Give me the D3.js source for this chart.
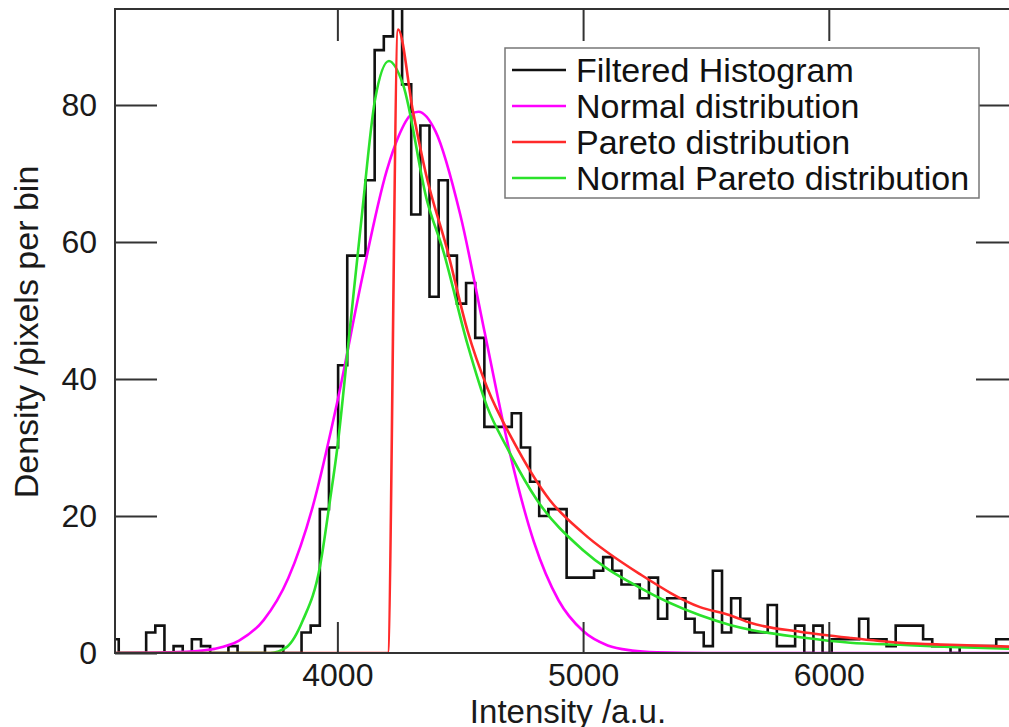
<!DOCTYPE html>
<html>
<head>
<meta charset="utf-8">
<script src="https://cdn.jsdelivr.net/npm/d3@7"></script>
<style>
  body { margin: 0; background: #fff; }
  svg { display: block; font-family: "Liberation Sans", Arial, Helvetica, sans-serif; }
  .axis text { font-size: 32px; fill: #1a1a1a; }
  .axis line { stroke: #333; stroke-width: 2px; }
  .axisLabel { font-size: 34px; fill: #1a1a1a; }
  .legend text { font-size: 34px; fill: #111; }
</style>
</head>
<body>
<div id="chart"></div>
<script>
var width = 1009, height = 727;
var plotLeft = 115, plotRight = 1018, plotTop = 9, plotBottom = 653;

// histogram: bins of equal width starting at binStart (a.u.)
var binStart = 3073, binWidth = 37.2;
var histValues = [
  2, 0, 0, 0, 3, 4, 0, 1, 0, 2,
  1, 0, 0, 1, 0, 0, 0, 1, 1, 0,
  0, 3, 4, 21, 30, 42, 58, 58, 69, 88,
  90, 95, 83, 64, 77, 52, 69, 58, 51, 54,
  46, 33, 33, 33, 35, 30, 25, 20, 21, 21,
  11, 11, 11, 12, 14, 12, 10, 10, 8, 11,
  5, 8, 8, 5, 3, 1, 12, 3, 8, 5,
  3, 3, 7, 1, 1, 4, 0, 4, 0, 2,
  2, 2, 5, 2, 2, 1, 4, 4, 4, 2,
  1, 1, 0, 1, 1, 1, 1, 2, 2
];

// fitted curves
var normalX = [3095, 3300, 3400, 3500, 3600, 3700, 3800, 3900, 4000, 4100, 4200, 4250, 4300, 4330, 4400, 4500, 4600, 4700, 4800, 4900, 5000, 5100, 5200, 5300, 5500, 6770];
var normalY = [0, 0.1, 0.2, 0.6, 1.8, 4.8, 10.9, 21.4, 36.7, 54.6, 70.3, 75.5, 78.6, 79, 76.1, 64, 46.7, 29.5, 16.2, 7.7, 3.2, 1.1, 0.35, 0.1, 0, 0];

var paretoX = [3095, 4205, 4247, 4308, 4360, 4446, 4530, 4609, 4715, 4865, 5000, 5232, 5476, 5598, 5680, 5883, 6087, 6290, 6493, 6770];
var paretoY = [0, 0, 91, 79, 70, 59, 47, 38.8, 31, 22.3, 17.5, 11.5, 6.7, 5.5, 4.4, 3.1, 2.2, 1.5, 1.2, 0.9];

var npX = [3095, 3726, 3795, 3860, 3929, 3970, 4000, 4050, 4100, 4153, 4210, 4267, 4365, 4430, 4530, 4609, 4690, 4813, 5000, 5232, 5476, 5598, 5680, 5883, 6087, 6290, 6493, 6770];
var npY = [0, 0, 0.9, 4.8, 12.6, 22.3, 30, 47, 64, 80.7, 86.4, 83, 66, 58.8, 45, 36, 30, 22.3, 15, 9.5, 5.5, 4.1, 3.4, 2.3, 1.5, 1.2, 0.9, 0.6];

var xTicks = [4000, 5000, 6000];
var yTicks = [0, 20, 40, 60, 80];
var legendNames = ['Filtered Histogram', 'Normal distribution', 'Pareto distribution', 'Normal Pareto distribution'];
var legendColors = ['#111', '#f0f', '#ff2a2a', '#2be22b'];

var svg = d3.select('#chart')
  .append('svg')
  .attr('width', width)
  .attr('height', height);

var xScale = d3.scaleLinear().domain([3095, 6770]).range([plotLeft, plotRight]);
var yScale = d3.scaleLinear().domain([0, 94]).range([plotBottom, plotTop]);

svg.append('clipPath')
  .attr('id', 'plotClip')
  .append('rect')
  .attr('x', plotLeft).attr('y', plotTop)
  .attr('width', plotRight - plotLeft).attr('height', plotBottom - plotTop);

var plot = svg.append('g').attr('clip-path', 'url(#plotClip)');

// histogram outline
var histPts = histValues.map(function (v, i) {
  return [binStart + i * binWidth, v];
});
histPts.push([binStart + histValues.length * binWidth, histValues[histValues.length - 1]]);

var stepLine = d3.line()
  .x(function (d) { return xScale(d[0]); })
  .y(function (d) { return yScale(d[1]); })
  .curve(d3.curveStepAfter);

var smooth = d3.line()
  .x(function (d) { return xScale(d[0]); })
  .y(function (d) { return yScale(d[1]); })
  .curve(d3.curveMonotoneX);

function zipPts(xs, ys) {
  return xs.map(function (x, i) { return [x, ys[i]]; });
}

plot.append('path')
  .datum(histPts)
  .attr('d', stepLine)
  .attr('fill', 'none')
  .attr('stroke', legendColors[0])
  .attr('stroke-width', 2.6);

plot.append('path')
  .datum(zipPts(normalX, normalY))
  .attr('d', smooth)
  .attr('fill', 'none')
  .attr('stroke', legendColors[1])
  .attr('stroke-width', 2.6);

plot.append('path')
  .datum(zipPts(npX, npY))
  .attr('d', smooth)
  .attr('fill', 'none')
  .attr('stroke', legendColors[3])
  .attr('stroke-width', 2.6);

plot.append('path')
  .datum(zipPts(paretoX, paretoY))
  .attr('d', smooth)
  .attr('fill', 'none')
  .attr('stroke', legendColors[2])
  .attr('stroke-width', 2.6);

// axes, ticks pointing inward
var xAxis = d3.axisBottom(xScale).tickValues(xTicks).tickSize(-31).tickPadding(10).tickFormat(d3.format('d'));
var xAxisTop = d3.axisTop(xScale).tickValues(xTicks).tickSize(-32).tickFormat('');
var yAxis = d3.axisLeft(yScale).tickValues(yTicks).tickSize(-42).tickPadding(18);
var yAxisRight = d3.axisRight(yScale).tickValues(yTicks.slice(1)).tickSize(-42).tickFormat('');

svg.append('g').attr('class', 'axis')
  .attr('transform', 'translate(0,' + plotBottom + ')')
  .call(xAxis);
svg.append('g').attr('class', 'axis')
  .attr('transform', 'translate(0,' + plotTop + ')')
  .call(xAxisTop);
svg.append('g').attr('class', 'axis')
  .attr('transform', 'translate(' + plotLeft + ',0)')
  .call(yAxis);
svg.append('g').attr('class', 'axis')
  .attr('transform', 'translate(' + plotRight + ',0)')
  .call(yAxisRight);

svg.selectAll('.axis .domain').remove();
svg.selectAll('.axis text').attr('font-family', null).attr('font-size', null);

svg.append('rect')
  .attr('x', plotLeft).attr('y', plotTop)
  .attr('width', plotRight - plotLeft).attr('height', plotBottom - plotTop)
  .attr('fill', 'none')
  .attr('stroke', '#333')
  .attr('stroke-width', 2);

svg.append('text')
  .attr('class', 'axisLabel')
  .attr('x', 568)
  .attr('y', 723)
  .attr('text-anchor', 'middle')
  .style('font-size', '33px')
  .text('Intensity /a.u.');

svg.append('text')
  .attr('class', 'axisLabel')
  .attr('transform', 'translate(38,332) rotate(-90)')
  .attr('text-anchor', 'middle')
  .text('Density /pixels per bin');

// legend
var legend = svg.append('g').attr('class', 'legend');
legend.append('rect')
  .attr('x', 505).attr('y', 48)
  .attr('width', 474).attr('height', 150)
  .attr('fill', '#fff')
  .attr('stroke', '#777')
  .attr('stroke-width', 1.5);

var rows = legend.selectAll('.row')
  .data(legendNames)
  .enter()
  .append('g')
  .attr('class', 'row')
  .attr('transform', function (d, i) { return 'translate(0,' + (70 + i * 36) + ')'; });

rows.append('line')
  .attr('x1', 512).attr('x2', 566)
  .attr('y1', 0).attr('y2', 0)
  .attr('stroke', function (d, i) { return legendColors[i]; })
  .attr('stroke-width', 2.6);

rows.append('text')
  .attr('x', 576)
  .attr('y', 0)
  .attr('dy', '0.35em')
  .text(function (d) { return d; });
</script>
</body>
</html>
